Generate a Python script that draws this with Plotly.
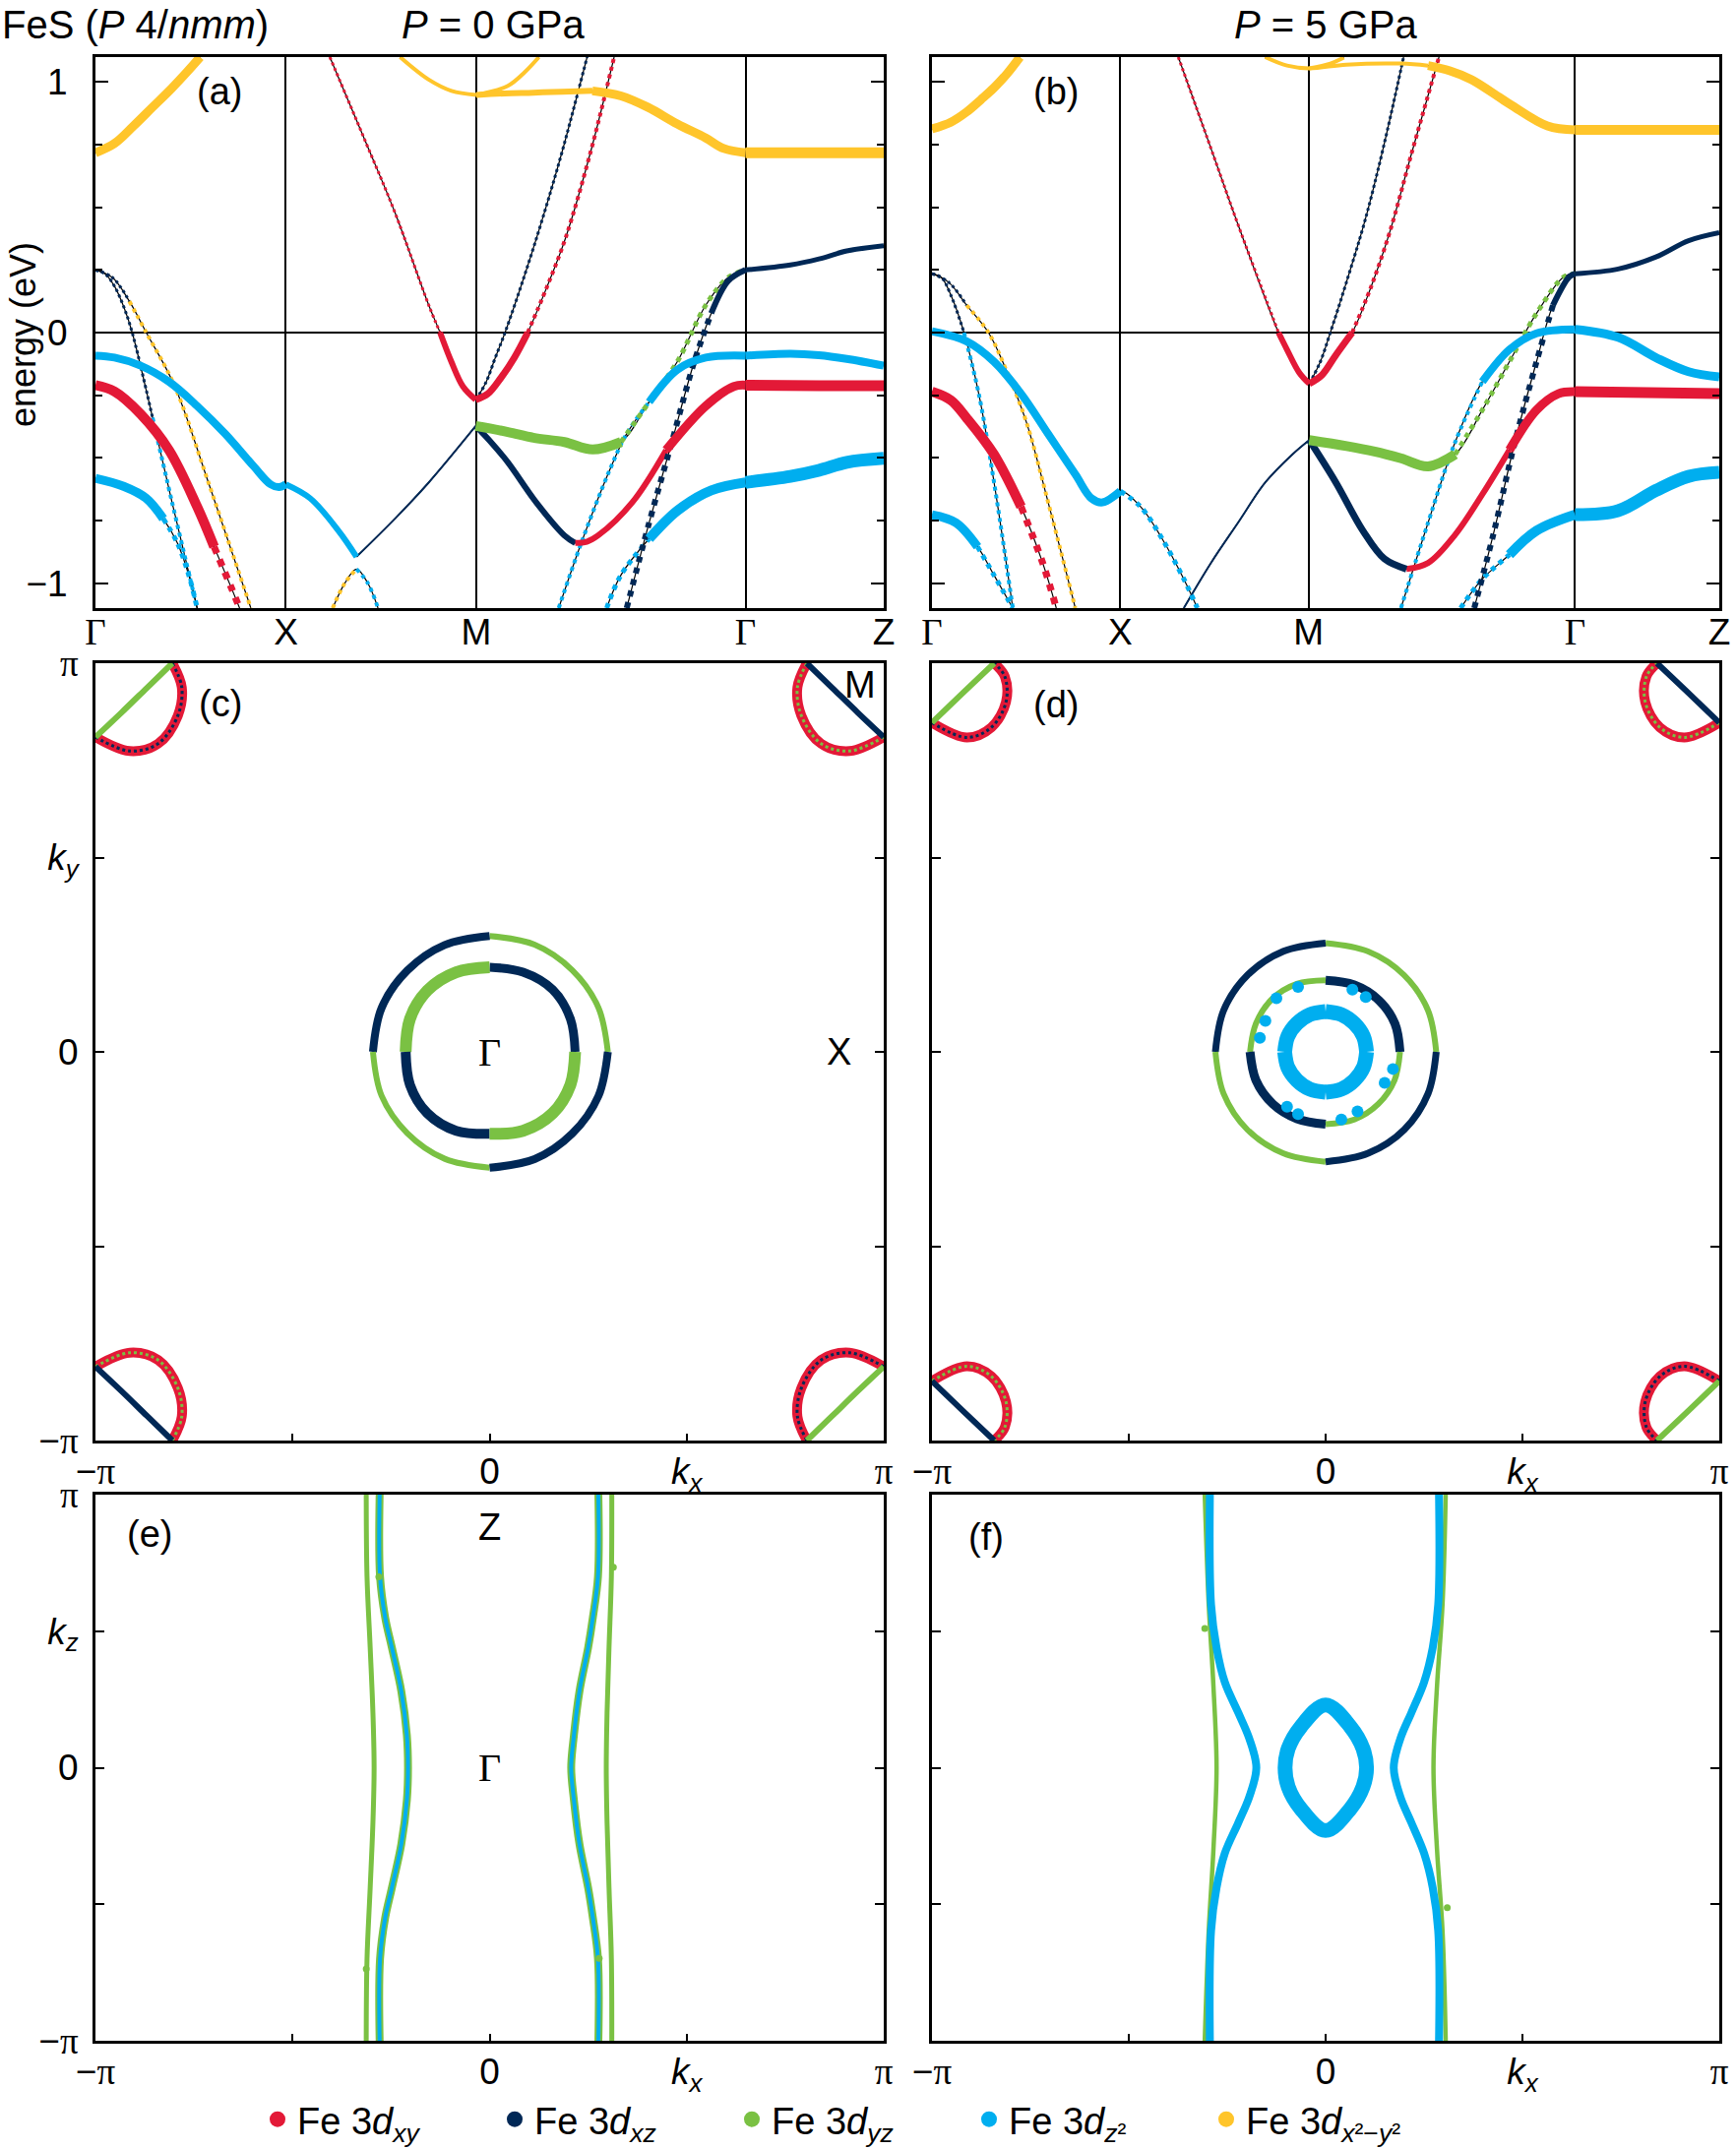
import plotly.graph_objects as go

W, H = 1764, 2184
OFF = 0  # page margin is removed by the post script below

# ---------------- colours (Fe 3d orbitals) ----------------
COL = {'red': '#E31937', 'nav': '#002856', 'grn': '#7AC143', 'cya': '#00AEEF', 'yel': '#FFC52B'}
LEGEND_KEYS = ['red', 'nav', 'grn', 'cya', 'yel']
LEGEND_NAMES = ['Fe 3<i>d</i><sub><i>xy</i></sub>', 'Fe 3<i>d</i><sub><i>xz</i></sub>',
                'Fe 3<i>d</i><sub><i>yz</i></sub>', 'Fe 3<i>d</i><sub><i>z</i>²</sub>',
                'Fe 3<i>d</i><sub><i>x</i>²−<i>y</i>²</sub>']

# ---------------- k-path (units of Gamma-X) ----------------
PATH_A = [0, 1, 2, 3.414, 4.14]
PATH_B = [0, 1, 2, 3.414, 4.18]

# ---------------- panel (a) bands: k, E (eV) ----------------
A_YEL1_K = [0, 0.1, 0.2, 0.3, 0.4, 0.48, 0.55]
A_YEL1_E = [0.718, 0.755, 0.825, 0.9, 0.975, 1.04, 1.10]
A_YEL2_K = [1.60, 1.75, 1.87, 2.0, 2.15, 2.3, 2.45, 2.61, 2.76, 2.9, 3.056, 3.205, 3.3, 3.414, 3.7, 4.14]
A_YEL2_E = [1.10, 1.01, 0.965, 0.949, 0.955, 0.958, 0.962, 0.965, 0.945, 0.9, 0.833, 0.777, 0.735, 0.718, 0.718, 0.718]
A_YEL3_K = [2.0, 2.166, 2.255, 2.329]
A_YEL3_E = [0.949, 0.985, 1.04, 1.10]
A_NAVA_K = [0, 0.05, 0.1, 0.15, 0.193, 0.3, 0.4, 0.534]
A_NAVA_E = [0.25, 0.235, 0.185, 0.1, 0.0, -0.34, -0.67, -1.10]
A_NAVB_K = [0, 0.089, 0.178, 0.267, 0.415, 0.593, 0.816]
A_NAVB_E = [0.25, 0.22, 0.125, 0.0, -0.212, -0.598, -1.10]
A_CYA1_K = [0, 0.1, 0.237, 0.386, 0.534, 0.682, 0.831, 0.92, 0.964, 1.0, 1.128, 1.276, 1.371]
A_CYA1_E = [-0.092, -0.1, -0.132, -0.196, -0.293, -0.405, -0.534, -0.606, -0.617, -0.606, -0.662, -0.791, -0.895]
A_XM_K = [1.371, 1.573, 1.751, 1.997]
A_XM_E = [-0.895, -0.743, -0.598, -0.373]
A_PEAK_K = [1.246, 1.31, 1.371, 1.43, 1.484]
A_PEAK_E = [-1.10, -1.0, -0.944, -1.0, -1.10]
A_CYA2_K = [0, 0.148, 0.267, 0.356, 0.43, 0.49, 0.534]
A_CYA2_E = [-0.582, -0.614, -0.662, -0.743, -0.84, -0.968, -1.10]
A_RED1_K = [0, 0.1, 0.237, 0.386, 0.534, 0.623, 0.712, 0.757]
A_RED1_E = [-0.21, -0.235, -0.325, -0.469, -0.695, -0.855, -1.016, -1.10]
A_REDML_K = [1.231, 1.424, 1.573, 1.75, 1.81, 1.869, 1.93, 1.997]
A_REDML_E = [1.10, 0.752, 0.479, 0.11, 0.0, -0.116, -0.215, -0.268]
A_NAVMR_K = [1.997, 2.05, 2.1, 2.151, 2.25, 2.35, 2.45, 2.582]
A_NAVMR_E = [-0.268, -0.2, -0.1, 0.0, 0.22, 0.46, 0.72, 1.10]
A_REDMR_K = [1.997, 2.06, 2.13, 2.2, 2.27, 2.37, 2.47, 2.6, 2.724]
A_REDMR_E = [-0.268, -0.245, -0.18, -0.1, 0.0, 0.18, 0.38, 0.72, 1.10]
A_GRN_K = [1.997, 2.166, 2.3, 2.463, 2.611, 2.76, 2.908, 3.056, 3.205, 3.323, 3.414]
A_GRN_E = [-0.373, -0.397, -0.42, -0.437, -0.467, -0.437, -0.277, -0.116, 0.109, 0.22, 0.25]
A_NAVRED_K = [1.997, 2.08, 2.166, 2.315, 2.463, 2.52, 2.58, 2.64, 2.819, 2.997, 3.205, 3.353, 3.414, 3.8, 4.14]
A_NAVRED_E = [-0.373, -0.44, -0.518, -0.678, -0.81, -0.84, -0.835, -0.81, -0.678, -0.469, -0.293, -0.215, -0.21, -0.212, -0.212]
A_NAVST_K = [2.79, 2.908, 3.027, 3.145, 3.234, 3.323, 3.414]
A_NAVST_E = [-1.10, -0.759, -0.437, -0.116, 0.077, 0.206, 0.25]
A_NAVGZ_K = [3.414, 3.65, 3.8, 3.946, 4.14]
A_NAVGZ_E = [0.25, 0.27, 0.294, 0.326, 0.347]
A_CYA3_K = [2.433, 2.552, 2.70, 2.789, 2.908, 3.056, 3.205, 3.414]
A_CYA3_E = [-1.10, -0.839, -0.55, -0.405, -0.277, -0.148, -0.1, -0.092]
A_CYAGZ_K = [3.414, 3.65, 3.8, 3.946, 4.14]
A_CYAGZ_E = [-0.092, -0.084, -0.09, -0.105, -0.132]
A_CYA4_K = [2.685, 2.76, 2.908, 3.056, 3.234, 3.414, 3.65, 3.8, 3.946, 4.14]
A_CYA4_E = [-1.10, -0.968, -0.823, -0.711, -0.63, -0.598, -0.574, -0.55, -0.518, -0.502]

# ---------------- panel (b) bands ----------------
B_YEL1_K = [0, 0.1, 0.184, 0.26, 0.329, 0.4, 0.467]
B_YEL1_E = [0.813, 0.84, 0.881, 0.93, 0.977, 1.035, 1.10]
B_YEL2_K = [1.769, 1.885, 2.003, 2.2, 2.49, 2.634, 2.75, 2.865, 3.066, 3.268, 3.414, 3.8, 4.18]
B_YEL2_E = [1.10, 1.066, 1.055, 1.07, 1.074, 1.066, 1.045, 1.01, 0.913, 0.825, 0.809, 0.809, 0.809]
B_YEL3_K = [2.003, 2.115, 2.187]
B_YEL3_E = [1.055, 1.074, 1.098]
B_NAVA_K = [0, 0.05, 0.1, 0.17, 0.25, 0.33, 0.429]
B_NAVA_E = [0.235, 0.22, 0.15, 0.0, -0.25, -0.6, -1.10]
B_NAVB_K = [0, 0.09, 0.184, 0.3, 0.4, 0.501, 0.617, 0.761]
B_NAVB_E = [0.235, 0.2, 0.109, 0.0, -0.16, -0.357, -0.678, -1.10]
B_CYA1_K = [0, 0.184, 0.329, 0.473, 0.617, 0.761, 0.847, 0.905, 1.0, 1.107, 1.222, 1.337, 1.409]
B_CYA1_E = [0.005, -0.035, -0.116, -0.244, -0.405, -0.566, -0.662, -0.678, -0.633, -0.695, -0.823, -0.984, -1.10]
B_XM_K = [1.337, 1.481, 1.625, 1.77, 1.914, 2.003]
B_XM_E = [-1.10, -0.92, -0.759, -0.598, -0.486, -0.429]
B_RED1_K = [0, 0.1, 0.184, 0.329, 0.473, 0.588, 0.66]
B_RED1_E = [-0.236, -0.27, -0.341, -0.486, -0.695, -0.92, -1.10]
B_CYA2_K = [0, 0.127, 0.242, 0.329, 0.429]
B_CYA2_E = [-0.727, -0.759, -0.855, -0.968, -1.10]
B_REDML_K = [1.308, 1.481, 1.625, 1.84, 1.885, 1.95, 2.003]
B_REDML_E = [1.10, 0.736, 0.431, 0.0, -0.068, -0.16, -0.204]
B_NAVMR_K = [2.003, 2.06, 2.115, 2.2, 2.3, 2.4, 2.504]
B_NAVMR_E = [-0.204, -0.12, 0.0, 0.2, 0.45, 0.75, 1.10]
B_REDMR_K = [2.003, 2.07, 2.144, 2.231, 2.33, 2.43, 2.548, 2.692]
B_REDMR_E = [-0.204, -0.17, -0.09, 0.0, 0.18, 0.4, 0.72, 1.10]
B_GRN_K = [2.003, 2.202, 2.35, 2.49, 2.634, 2.778, 2.922, 3.066, 3.21, 3.354, 3.414]
B_GRN_E = [-0.429, -0.453, -0.475, -0.502, -0.534, -0.486, -0.309, -0.116, 0.077, 0.222, 0.235]
B_NAVRED_K = [2.003, 2.144, 2.288, 2.403, 2.519, 2.634, 2.778, 2.922, 3.066, 3.21, 3.326, 3.414, 3.8, 4.18]
B_NAVRED_E = [-0.429, -0.598, -0.791, -0.904, -0.944, -0.92, -0.807, -0.646, -0.469, -0.309, -0.244, -0.236, -0.24, -0.244]
B_NAVST_K = [2.879, 2.98, 3.095, 3.21, 3.297, 3.383, 3.414]
B_NAVST_E = [-1.10, -0.807, -0.437, -0.116, 0.109, 0.222, 0.235]
B_NAVGZ_K = [3.414, 3.643, 3.844, 4.017, 4.18]
B_NAVGZ_E = [0.235, 0.254, 0.302, 0.367, 0.399]
B_CYA3_K = [2.49, 2.634, 2.778, 2.922, 3.066, 3.21, 3.414]
B_CYA3_E = [-1.10, -0.759, -0.437, -0.196, -0.068, -0.003, 0.013]
B_CYAGZ_K = [3.414, 3.643, 3.844, 4.017, 4.18]
B_CYAGZ_E = [0.013, -0.019, -0.1, -0.156, -0.177]
B_CYA4_K = [2.807, 2.922, 3.066, 3.21, 3.414, 3.643, 3.844, 4.017, 4.18]
B_CYA4_E = [-1.10, -0.984, -0.887, -0.791, -0.727, -0.711, -0.63, -0.574, -0.558]

# ---------------- Fermi surfaces, kx-ky (units of pi) ----------------
C_OUT_KX = [0.300, 0.276, 0.210, 0.114, 0.000, -0.114, -0.209, -0.274, -0.296, -0.274, -0.209, -0.114, 0.000, 0.114, 0.210, 0.276, 0.300]
C_OUT_KY = [0.000, 0.114, 0.210, 0.276, 0.298, 0.275, 0.209, 0.113, 0.000, -0.113, -0.209, -0.275, -0.298, -0.276, -0.210, -0.114, 0.000]
C_IN_KX = [0.217, 0.205, 0.160, 0.085, 0.000, -0.085, -0.158, -0.202, -0.213, -0.202, -0.158, -0.085, 0.000, 0.085, 0.160, 0.205, 0.217]
C_IN_KY = [0.000, 0.085, 0.160, 0.205, 0.218, 0.205, 0.158, 0.085, 0.000, -0.085, -0.158, -0.203, -0.211, -0.203, -0.158, -0.085, 0.000]
C_CHORD_KX = [-1.0, -0.935, -0.87, -0.805]
C_CHORD_KY = [0.81, 0.872, 0.936, 1.0]
C_ARC_KX = [-1.0, -0.913, -0.841, -0.791, -0.781, -0.805]
C_ARC_KY = [0.81, 0.774, 0.793, 0.865, 0.938, 1.0]

D_OUT_KX = [0.281, 0.260, 0.199, 0.107, 0.000, -0.107, -0.198, -0.259, -0.280, -0.259, -0.199, -0.108, 0.000, 0.108, 0.200, 0.260, 0.281]
D_OUT_KY = [0.000, 0.107, 0.198, 0.259, 0.280, 0.259, 0.198, 0.107, 0.000, -0.108, -0.200, -0.261, -0.283, -0.261, -0.200, -0.108, 0.000]
D_MID_KX = [0.189, 0.176, 0.135, 0.073, 0.000, -0.073, -0.136, -0.177, -0.192, -0.177, -0.134, -0.073, 0.000, 0.073, 0.134, 0.175, 0.189]
D_MID_KY = [0.000, 0.073, 0.133, 0.172, 0.184, 0.175, 0.136, 0.073, 0.000, -0.073, -0.134, -0.172, -0.186, -0.174, -0.134, -0.073, 0.000]
D_IN_KX = [0.104, 0.096, 0.073, 0.040, 0.000, -0.040, -0.073, -0.096, -0.104, -0.096, -0.073, -0.040, 0.000, 0.040, 0.073, 0.096, 0.104]
D_IN_KY = [0.000, 0.040, 0.073, 0.096, 0.104, 0.096, 0.073, 0.040, 0.000, -0.040, -0.073, -0.096, -0.104, -0.096, -0.073, -0.040, 0.000]
D_DOT_KX = [-0.167, -0.153, -0.125, -0.07, 0.068, 0.102, 0.171, 0.15, 0.081, 0.04, -0.098, -0.07]
D_DOT_KY = [0.036, 0.08, 0.138, 0.167, 0.16, 0.141, -0.044, -0.08, -0.153, -0.174, -0.141, -0.16]
D_CHORD_KX = [-1.0, -0.92, -0.842]
D_CHORD_KY = [0.847, 0.925, 1.0]
D_ARC_KX = [-1.0, -0.911, -0.849, -0.812, -0.815, -0.842]
D_ARC_KY = [0.847, 0.809, 0.835, 0.9, 0.966, 1.0]

# ---------------- Fermi surfaces, kx-kz (units of pi) ----------------
E_O_KZ = [1.0, 0.7, 0.44, 0.2, 0.0, -0.2, -0.44, -0.7, -1.0]
E_LO_KX = [-0.313, -0.311, -0.303, -0.296, -0.293, -0.296, -0.303, -0.311, -0.313]
E_RO_KX = [0.31, 0.309, 0.303, 0.298, 0.296, 0.298, 0.303, 0.309, 0.31]
E_I_KZ = [1.0, 0.7, 0.55, 0.44, 0.28, 0.12, 0.0, -0.12, -0.28, -0.44, -0.55, -0.7, -1.0]
E_LI_KX = [-0.279, -0.278, -0.265, -0.248, -0.224, -0.21, -0.207, -0.21, -0.224, -0.248, -0.265, -0.278, -0.279]
E_RI_KX = [0.276, 0.275, 0.262, 0.25, 0.228, 0.214, 0.207, 0.214, 0.228, 0.25, 0.262, 0.275, 0.276]
E_DOT_KX = [-0.281, -0.313, 0.314, 0.278]
E_DOT_KZ = [0.699, -0.737, 0.734, -0.698]

F_O_KZ = [1.0, 0.6, 0.3, 0.0, -0.3, -0.6, -1.0]
F_LO_KX = [-0.307, -0.297, -0.285, -0.277, -0.285, -0.297, -0.307]
F_RO_KX = [0.305, 0.297, 0.283, 0.274, 0.283, 0.297, 0.305]
F_C_KZ = [1.0, 0.597, 0.439, 0.313, 0.202, 0.107, 0.0, -0.107, -0.202, -0.313, -0.439, -0.597, -1.0]
F_LC_KX = [-0.294, -0.291, -0.277, -0.256, -0.222, -0.194, -0.176, -0.194, -0.222, -0.256, -0.277, -0.291, -0.294]
F_RC_KX = [0.288, 0.286, 0.272, 0.25, 0.218, 0.19, 0.173, 0.19, 0.218, 0.25, 0.272, 0.286, 0.288]
F_ELL_KX = [0.0, -0.063, -0.095, -0.103, -0.095, -0.063, 0.0, 0.063, 0.095, 0.104, 0.095, 0.063, 0.0]
F_ELL_KZ = [0.23, 0.15, 0.07, 0.0, -0.07, -0.15, -0.23, -0.15, -0.07, 0.0, 0.07, 0.15, 0.23]
F_DOT_KX = [-0.307, 0.309]
F_DOT_KZ = [0.51, -0.513]

# ---------------- styles (segment index ranges, colour, width, dash) ----------------
BANDS_A = [
    (A_YEL1_K, A_YEL1_E, [(0, 6, 'yel', 9, 'solid')]),
    (A_YEL2_K, A_YEL2_E, [(0, 3, 'yel', 4, 'solid'), (3, 7, 'yel', 6, 'solid'), (7, 13, 'yel', 9, 'solid'), (13, 15, 'yel', 11, 'solid')]),
    (A_YEL3_K, A_YEL3_E, [(0, 3, 'yel', 4, 'solid')]),
    (A_NAVA_K, A_NAVA_E, [(0, 5, 'nav', 3, 'dot'), (5, 7, 'cya', 4, 'dot')]),
    (A_NAVB_K, A_NAVB_E, [(0, 2, 'nav', 3, 'dot'), (2, 6, 'yel', 4, 'dot')]),
    (A_CYA1_K, A_CYA1_E, [(0, 9, 'cya', 8, 'solid'), (9, 12, 'cya', 6, 'solid')]),
    (A_XM_K, A_XM_E, [(0, 3, 'nav', 2, 'solid')]),
    (A_PEAK_K, A_PEAK_E, [(0, 2, 'yel', 4, 'dot'), (2, 4, 'cya', 4, 'dot')]),
    (A_CYA2_K, A_CYA2_E, [(0, 3, 'cya', 9, 'solid'), (3, 6, 'cya', 5, 'dot')]),
    (A_RED1_K, A_RED1_E, [(0, 5, 'red', 10, 'solid'), (5, 7, 'red', 7, 'dot')]),
    (A_REDML_K, A_REDML_E, [(0, 4, 'red', 3, 'dot'), (4, 7, 'red', 6, 'solid')]),
    (A_NAVMR_K, A_NAVMR_E, [(0, 7, 'nav', 3, 'dot')]),
    (A_REDMR_K, A_REDMR_E, [(0, 4, 'red', 7, 'solid'), (4, 8, 'red', 4, 'dot')]),
    (A_GRN_K, A_GRN_E, [(0, 5, 'grn', 10, 'solid'), (5, 10, 'grn', 5, 'dot')]),
    (A_NAVRED_K, A_NAVRED_E, [(0, 5, 'nav', 6, 'solid'), (5, 9, 'red', 6, 'solid'), (9, 12, 'red', 9, 'solid'), (12, 14, 'red', 11, 'solid')]),
    (A_NAVST_K, A_NAVST_E, [(0, 4, 'nav', 6, 'dot'), (4, 6, 'nav', 6, 'solid')]),
    (A_NAVGZ_K, A_NAVGZ_E, [(0, 4, 'nav', 5, 'solid')]),
    (A_CYA3_K, A_CYA3_E, [(0, 4, 'cya', 4, 'dot'), (4, 7, 'cya', 8, 'solid')]),
    (A_CYAGZ_K, A_CYAGZ_E, [(0, 4, 'cya', 8, 'solid')]),
    (A_CYA4_K, A_CYA4_E, [(0, 2, 'cya', 5, 'dot'), (2, 5, 'cya', 10, 'solid'), (5, 9, 'cya', 13, 'solid')]),
]
BANDS_B = [
    (B_YEL1_K, B_YEL1_E, [(0, 6, 'yel', 9, 'solid')]),
    (B_YEL2_K, B_YEL2_E, [(0, 5, 'yel', 4, 'solid'), (5, 10, 'yel', 9, 'solid'), (10, 12, 'yel', 10, 'solid')]),
    (B_YEL3_K, B_YEL3_E, [(0, 2, 'yel', 4, 'solid')]),
    (B_NAVA_K, B_NAVA_E, [(0, 3, 'nav', 3, 'dot'), (3, 6, 'cya', 4, 'dot')]),
    (B_NAVB_K, B_NAVB_E, [(0, 2, 'nav', 3, 'dot'), (2, 7, 'yel', 4, 'dot')]),
    (B_CYA1_K, B_CYA1_E, [(0, 8, 'cya', 8, 'solid'), (8, 12, 'cya', 5, 'dot')]),
    (B_XM_K, B_XM_E, [(0, 5, 'nav', 2, 'solid')]),
    (B_RED1_K, B_RED1_E, [(0, 4, 'red', 10, 'solid'), (4, 6, 'red', 7, 'dot')]),
    (B_CYA2_K, B_CYA2_E, [(0, 2, 'cya', 9, 'solid'), (2, 4, 'cya', 5, 'dot')]),
    (B_REDML_K, B_REDML_E, [(0, 3, 'red', 3, 'dot'), (3, 6, 'red', 6, 'solid')]),
    (B_NAVMR_K, B_NAVMR_E, [(0, 6, 'nav', 3, 'dot')]),
    (B_REDMR_K, B_REDMR_E, [(0, 3, 'red', 7, 'solid'), (3, 7, 'red', 4, 'dot')]),
    (B_GRN_K, B_GRN_E, [(0, 5, 'grn', 10, 'solid'), (5, 10, 'grn', 5, 'dot')]),
    (B_NAVRED_K, B_NAVRED_E, [(0, 4, 'nav', 7, 'solid'), (4, 8, 'red', 6, 'solid'), (8, 11, 'red', 9, 'solid'), (11, 13, 'red', 11, 'solid')]),
    (B_NAVST_K, B_NAVST_E, [(0, 4, 'nav', 6, 'dot'), (4, 6, 'nav', 6, 'solid')]),
    (B_NAVGZ_K, B_NAVGZ_E, [(0, 4, 'nav', 5, 'solid')]),
    (B_CYA3_K, B_CYA3_E, [(0, 3, 'cya', 4, 'dot'), (3, 6, 'cya', 8, 'solid')]),
    (B_CYAGZ_K, B_CYAGZ_E, [(0, 4, 'cya', 9, 'solid')]),
    (B_CYA4_K, B_CYA4_E, [(0, 2, 'cya', 5, 'dot'), (2, 4, 'cya', 10, 'solid'), (4, 8, 'cya', 13, 'solid')]),
]
QUAD = [(0, 4), (4, 8), (8, 12), (12, 16)]
RINGS_C = [(C_OUT_KX, C_OUT_KY, [('grn', 6), ('nav', 8), ('grn', 6), ('nav', 8)]),
           (C_IN_KX, C_IN_KY, [('nav', 9), ('grn', 12), ('nav', 10), ('grn', 12)])]
RINGS_D = [(D_OUT_KX, D_OUT_KY, [('grn', 6), ('nav', 7), ('grn', 6), ('nav', 7)]),
           (D_MID_KX, D_MID_KY, [('nav', 9), ('grn', 6), ('nav', 9), ('grn', 6)]),
           (D_IN_KX, D_IN_KY, [('cya', 15), ('cya', 15), ('cya', 15), ('cya', 15)])]
CORNERS = [(1, 1, 'grn', 'nav'), (-1, 1, 'nav', 'grn'), (1, -1, 'nav', 'grn'), (-1, -1, 'grn', 'nav')]

SERIF = 'Liberation Serif'
SANS = 'Liberation Sans, Arial, sans-serif'


def serif(s):
    return '<span style="font-family:%s">%s</span>' % (SERIF, s)


GAM = serif('Γ')
PI = serif('π')

fig = go.Figure()


def add_line(x, y, xa, ya, color, width, dash='solid'):
    fig.add_trace(go.Scatter(x=x, y=y, mode='lines', xaxis=xa, yaxis=ya, showlegend=False,
                             hoverinfo='skip',
                             line=dict(color=color, width=width, dash=dash, shape='spline')))


def draw_bands(bands, xa, ya):
    for k, e, segs in bands:
        add_line(k, e, xa, ya, 'black', 1.2)
    items = []
    for k, e, segs in bands:
        for (i0, i1, c, w, d) in segs:
            items.append((w, k[i0:i1 + 1], e[i0:i1 + 1], c, d))
    items.sort(key=lambda t: t[0])
    for w, kk, ee, c, d in items:
        add_line(kk, ee, xa, ya, COL[c], w, d)


def draw_rings(rings, xa, ya):
    for kx, ky, st in rings:
        for (i0, i1), (c, w) in zip(QUAD, st):
            add_line(kx[i0:i1 + 1], ky[i0:i1 + 1], xa, ya, COL[c], w)


def draw_pockets(ckx, cky, akx, aky, xa, ya):
    for sx, sy, chord_c, over_c in CORNERS:
        ax = [sx * v for v in akx]
        ay = [sy * v for v in aky]
        add_line(ax, ay, xa, ya, COL['red'], 10)
        add_line(ax, ay, xa, ya, COL[over_c], 3, 'dot')
        add_line([sx * v for v in ckx], [sy * v for v in cky], xa, ya, COL[chord_c], 6)


draw_bands(BANDS_A, 'x', 'y')
draw_bands(BANDS_B, 'x2', 'y2')

draw_pockets(C_CHORD_KX, C_CHORD_KY, C_ARC_KX, C_ARC_KY, 'x3', 'y3')
draw_rings(RINGS_C, 'x3', 'y3')
draw_pockets(D_CHORD_KX, D_CHORD_KY, D_ARC_KX, D_ARC_KY, 'x4', 'y4')
draw_rings(RINGS_D, 'x4', 'y4')
fig.add_trace(go.Scatter(x=D_DOT_KX, y=D_DOT_KY, mode='markers', xaxis='x4', yaxis='y4', showlegend=False,
                         hoverinfo='skip', marker=dict(color=COL['cya'], size=12)))

# (e)
add_line(E_LO_KX, E_O_KZ, 'x5', 'y5', COL['grn'], 5)
add_line(E_RO_KX, E_O_KZ, 'x5', 'y5', COL['grn'], 5)
for kx in (E_LI_KX, E_RI_KX):
    add_line(kx, E_I_KZ, 'x5', 'y5', COL['grn'], 8)
    add_line(kx, E_I_KZ, 'x5', 'y5', COL['cya'], 4)
fig.add_trace(go.Scatter(x=E_DOT_KX, y=E_DOT_KZ, mode='markers', xaxis='x5', yaxis='y5', showlegend=False,
                         hoverinfo='skip', marker=dict(color=COL['grn'], size=7)))
# (f)
add_line(F_LO_KX, F_O_KZ, 'x6', 'y6', COL['grn'], 4.5)
add_line(F_RO_KX, F_O_KZ, 'x6', 'y6', COL['grn'], 4.5)
add_line(F_LC_KX, F_C_KZ, 'x6', 'y6', COL['cya'], 8)
add_line(F_RC_KX, F_C_KZ, 'x6', 'y6', COL['cya'], 8)
add_line(F_ELL_KX, F_ELL_KZ, 'x6', 'y6', COL['cya'], 15)
fig.add_trace(go.Scatter(x=F_DOT_KX, y=F_DOT_KZ, mode='markers', xaxis='x6', yaxis='y6', showlegend=False,
                         hoverinfo='skip', marker=dict(color=COL['grn'], size=7)))

# legend entries
for key, name in zip(LEGEND_KEYS, LEGEND_NAMES):
    fig.add_trace(go.Scatter(x=[None], y=[None], mode='markers', name=name, xaxis='x', yaxis='y',
                             marker=dict(color=COL[key], size=18), showlegend=True))

# ---------------- axes (target pixel boxes in the screenshot) ----------------
XL, XR = (97, 898), (947, 1747)
ROW1, ROW2, ROW3 = (58, 618), (674, 1464), (1519, 2074)


def px(x):
    return (x - OFF) / W


def py(y):
    return 1 - (y - OFF) / H


def dx(p):
    return [px(p[0]), px(p[1])]


def dy(p):
    return [py(p[1]), py(p[0])]


frame = dict(showline=True, linecolor='black', linewidth=3, zeroline=False, showgrid=False, automargin=False)


def band_x(path, anchor, dom):
    return dict(frame, domain=dom, anchor=anchor, range=[path[0], path[-1]], tickmode='array',
                tickvals=path, ticktext=[GAM, 'X', 'M', GAM, 'Z'], ticks='', mirror=True,
                showgrid=True, gridcolor='black', gridwidth=1.5,
                tickfont=dict(size=37, color='black'), ticklabelstandoff=-10)


def band_y(anchor, dom, labels):
    return dict(frame, domain=dom, anchor=anchor, range=[-1.1, 1.1], tickmode='array',
                tickvals=[-1, 0, 1], ticktext=['−1', '0', '1'], showticklabels=labels,
                ticks='inside', ticklen=13, tickwidth=1.5, tickcolor='black', mirror='allticks',
                minor=dict(tickmode='array', tickvals=[-0.75, -0.5, -0.25, 0.25, 0.5, 0.75],
                           ticks='inside', ticklen=7, tickwidth=1.5, tickcolor='black'),
                zeroline=True, zerolinecolor='black', zerolinewidth=1.5,
                tickfont=dict(size=37, color='black'), ticklabelstandoff=18)


KX = '<i>k</i><sub><i>x</i></sub>'
KY = '<i>k</i><sub><i>y</i></sub>'
KZ = '<i>k</i><sub><i>z</i></sub>'


def fs_x(anchor, dom):
    return dict(frame, domain=dom, anchor=anchor, range=[-1, 1], tickmode='array',
                tickvals=[-1, -0.5, 0, 0.5, 1], ticktext=['−' + PI, '', '0', KX, PI],
                ticks='inside', ticklen=7, tickwidth=1.5, tickcolor='black', mirror=True,
                tickfont=dict(size=37, color='black'), ticklabelstandoff=-3)


def fs_y(anchor, dom, lab, labels):
    return dict(frame, domain=dom, anchor=anchor, range=[-1, 1], tickmode='array',
                tickvals=[-1, -0.5, 0, 0.5, 1], ticktext=['−' + PI, '', '0', lab, PI],
                showticklabels=labels,
                ticks='inside', ticklen=9, tickwidth=1.5, tickcolor='black', mirror='allticks',
                tickfont=dict(size=37, color='black'), ticklabelstandoff=7)


layout = dict(
    width=W, height=H, autosize=False, margin=dict(l=0, r=0, t=0, b=0, pad=0, autoexpand=False),
    paper_bgcolor='white', plot_bgcolor='white',
    font=dict(family=SANS, size=36, color='black'),
    xaxis=band_x(PATH_A, 'y', dx(XL)), yaxis=band_y('x', dy(ROW1), True),
    xaxis2=band_x(PATH_B, 'y2', dx(XR)), yaxis2=band_y('x2', dy(ROW1), False),
    xaxis3=fs_x('y3', dx(XL)), yaxis3=fs_y('x3', dy(ROW2), KY, True),
    xaxis4=fs_x('y4', dx(XR)), yaxis4=fs_y('x4', dy(ROW2), KY, False),
    xaxis5=fs_x('y5', dx(XL)), yaxis5=fs_y('x5', dy(ROW3), KZ, True),
    xaxis6=fs_x('y6', dx(XR)), yaxis6=fs_y('x6', dy(ROW3), KZ, False),
    showlegend=True,
    legend=dict(orientation='h', x=px(262), xanchor='left', y=py(2154), yanchor='middle',
                entrywidth=196, entrywidthmode='pixels', font=dict(size=38),
                itemsizing='trace', bgcolor='rgba(0,0,0,0)', traceorder='normal'),
)
fig.update_layout(**layout)

ann = []


def label(text, x, y, xr, yr, size=38, **kw):
    d = dict(text=text, x=x, y=y, xref=xr, yref=yr, showarrow=False,
             xanchor='center', yanchor='middle', font=dict(size=size, color='black'))
    d.update(kw)
    ann.append(d)


label('(a)', 0.653, 0.961, 'x', 'y')
label('(b)', 0.66, 0.961, 'x2', 'y2')
label('(c)', -0.683, 0.895, 'x3', 'y3')
label('(d)', -0.684, 0.893, 'x4', 'y4')
label('(e)', -0.863, 0.855, 'x5', 'y5')
label('(f)', -0.863, 0.845, 'x6', 'y6')
label(GAM, 0.0, 0.0, 'x3', 'y3', size=40)
label('X', 0.886, 0.0, 'x3', 'y3')
label('M', 0.939, 0.945, 'x3', 'y3')
label('Z', 0.0, 0.88, 'x5', 'y5')
label(GAM, 0.0, 0.0, 'x5', 'y5', size=40)
label('FeS (<i>P</i> 4/<i>nmm</i>)', px(0), py(25), 'paper', 'paper', size=40, xanchor='left')
label('<i>P</i> = 0 GPa', px(501), py(25), 'paper', 'paper', size=40)
label('<i>P</i> = 5 GPa', px(1347), py(25), 'paper', 'paper', size=40)
label('energy (eV)', px(23), py(340), 'paper', 'paper', size=36, textangle=-90)
fig.update_layout(annotations=ann)

fig.write_html('out.html', config={'displayModeBar': False},
               post_script="document.body.style.margin='0px';document.body.style.padding='0px';")
